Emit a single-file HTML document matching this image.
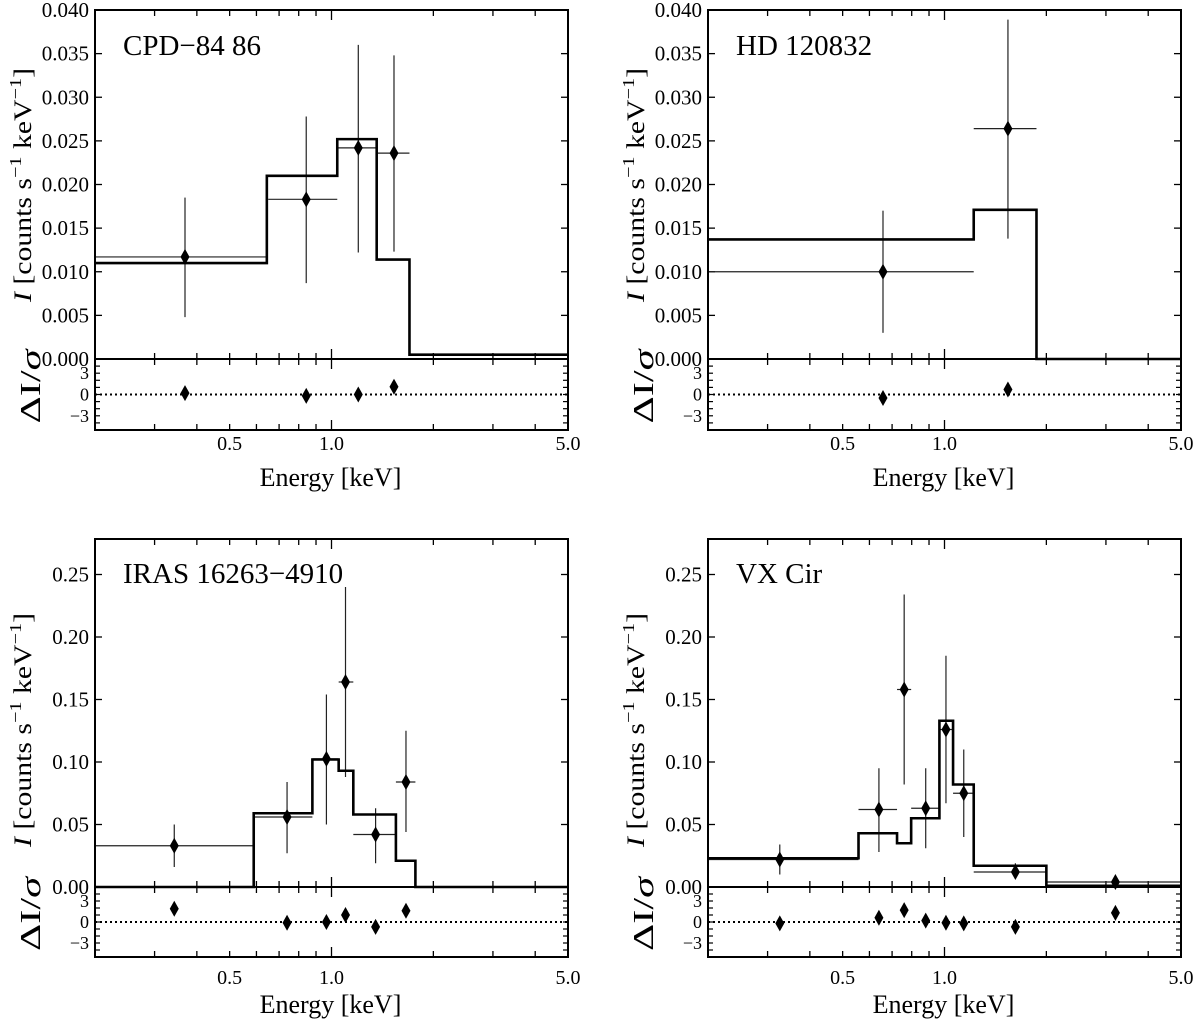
<!DOCTYPE html>
<html><head><meta charset="utf-8"><style>
html,body{margin:0;padding:0;background:#fff;}
svg{display:block;font-family:"Liberation Serif",serif;}
</style></head><body>
<svg id="fig" width="1200" height="1023" viewBox="0 0 1200 1023" xmlns="http://www.w3.org/2000/svg"></svg>
<script>
// ---- Panel data (energies in keV, intensities in counts/s/keV) ----
const tlNames = "CPD\u221284 86";
const tlEdges = [0.2,0.644,1.04,1.36,1.70,5];
const tlModel = [0.011,0.021,0.0252,0.0114,0.0005];
const tlE = [0.369,0.842,1.20,1.53];
const tlY = [0.0117,0.0183,0.0242,0.0236];
const tlYlo = [0.0048,0.0087,0.0122,0.0123];
const tlYhi = [0.0185,0.0278,0.036,0.0348];
const tlXlo = [0.2,0.65,1.04,1.36];
const tlXhi = [0.644,1.04,1.36,1.70];
const tlRes = [0.2,-0.2,0,1.1];

const trNames = "HD 120832";
const trEdges = [0.2,1.22,1.87,5];
const trModel = [0.0137,0.0171,0];
const trE = [0.658,1.54];
const trY = [0.010,0.0264];
const trYlo = [0.003,0.0138];
const trYhi = [0.017,0.0389];
const trXlo = [0.2,1.22];
const trXhi = [1.22,1.87];
const trRes = [-0.5,0.7];

const blNames = "IRAS 16263\u22124910";
const blEdges = [0.2,0.589,0.878,1.05,1.16,1.55,1.77,5];
const blModel = [0,0.059,0.102,0.093,0.058,0.021,0];
const blE = [0.343,0.739,0.966,1.10,1.35,1.66];
const blY = [0.033,0.056,0.1025,0.164,0.042,0.084];
const blYlo = [0.016,0.027,0.050,0.088,0.019,0.044];
const blYhi = [0.050,0.084,0.154,0.240,0.063,0.125];
const blXlo = [0.2,0.589,0.878,1.05,1.16,1.55];
const blXhi = [0.589,0.878,1.05,1.16,1.55,1.77];
const blRes = [1.9,-0.1,0,1,-0.7,1.6];

const brNames = "VX Cir";
const brEdges = [0.2,0.557,0.724,0.797,0.966,1.06,1.22,2.0,5];
const brModel = [0.023,0.043,0.035,0.055,0.133,0.082,0.017,0.001];
const brE = [0.326,0.64,0.76,0.88,1.01,1.14,1.62,3.2];
const brY = [0.022,0.062,0.158,0.063,0.126,0.075,0.012,0.004];
const brYlo = [0.010,0.028,0.082,0.031,0.067,0.040,0.007,0.002];
const brYhi = [0.034,0.095,0.234,0.095,0.185,0.110,0.019,0.006];
const brXlo = [0.2,0.557,0.724,0.797,0.966,1.06,1.22,2.0];
const brXhi = [0.557,0.724,0.797,0.966,1.06,1.22,2.0,5];
const brRes = [-0.2,0.6,1.7,0.2,-0.1,-0.2,-0.7,1.3];

const topYTicks = [0,0.005,0.010,0.015,0.020,0.025,0.030,0.035,0.040];
const botYTicks = [0,0.05,0.10,0.15,0.20,0.25];
const xMinorTicks = [0.3,0.4,0.5,0.6,0.7,0.8,0.9,2,3,4];
const xLabelTicks = [0.5,1.0,5.0];
const resLabelTicks = [3,0,-3];

const NS="http://www.w3.org/2000/svg";
const svg=document.getElementById('fig');
function mk(tag,attrs,parent){const e=document.createElementNS(NS,tag);for(const k in attrs)e.setAttribute(k,attrs[k]);(parent||svg).appendChild(e);return e;}

function panel(p){
  const g=mk('g',{});
  
  
  const X0=p.left,X1=p.right,T=p.top,Z=p.zero,RB=p.rbot;
  const lmin=Math.log10(0.2),lmax=Math.log10(5);
  const sx=e=>X0+(Math.log10(e)-lmin)/(lmax-lmin)*(X1-X0);
  const sy=v=>Z-v/p.ymax*(Z-T);
  const rc=(Z+RB)/2;
  const sr=r=>rc-r*(RB-Z)/10;
  p.yticks.forEach(v=>{
    const y=sy(v);
    if(v>0){mk('line',{x1:X0,y1:y,x2:X0+7,y2:y,stroke:'#000','stroke-width':1.3},g);
    mk('line',{x1:X1,y1:y,x2:X1-7,y2:y,stroke:'#000','stroke-width':1.3},g);}
    const t=mk('text',{x:X0-6,y:y+7,'text-anchor':'end','font-size':21},g);
    t.textContent=v.toFixed(p.dec);
    
    
  });
  for(let r=-4;r<=4;r++){const y=sr(r);
    mk('line',{x1:X0,y1:y,x2:X0+5,y2:y,stroke:'#000','stroke-width':1.2},g);
    mk('line',{x1:X1,y1:y,x2:X1-5,y2:y,stroke:'#000','stroke-width':1.2},g);}
  resLabelTicks.forEach(r=>{const t=mk('text',{x:X0-6,y:sr(r)+6,'text-anchor':'end','font-size':18},g);
    t.textContent=r<0?'\u2212'+(-r):String(r);
    
    });
  const allx=xMinorTicks.concat([1]);
  allx.forEach(e=>{const x=sx(e);const L=e===1?10:6;
    [[T,1],[Z,-1],[Z,1],[RB,-1]].forEach(([y,d])=>mk('line',{x1:x,y1:y,x2:x,y2:y+d*L,stroke:'#000','stroke-width':1.3},g));});
  xLabelTicks.forEach(e=>{const t=mk('text',{x:sx(e),y:RB+p.tickDy,'text-anchor':'middle','font-size':20},g);
    t.textContent=e.toFixed(1);
    
    });
  const zl=mk('line',{x1:X0,y1:sr(0),x2:X1,y2:sr(0),stroke:'#000','stroke-width':2,'stroke-dasharray':'2,3'},g);
  
  
  p.E.forEach((e,i)=>{const y=sy(p.Y[i]);
    const l=mk('line',{x1:sx(p.Xlo[i]),y1:y,x2:sx(p.Xhi[i]),y2:y,stroke:'#222','stroke-width':1.2},g);
    
    
    const v=mk('line',{x1:sx(e),y1:sy(p.Ylo[i]),x2:sx(e),y2:sy(p.Yhi[i]),stroke:'#222','stroke-width':1.2},g);
    
    });
  let d='';
  p.model.forEach((v,i)=>{const y=sy(v);const xa=sx(p.edges[i]),xb=sx(p.edges[i+1]);
    d+=(i===0?'M':'L')+xa+','+y+'L'+xb+','+y;});
  const mp=mk('path',{d:d,fill:'none',stroke:'#000','stroke-width':2.6,'stroke-linejoin':'miter'},g);
  
  
  const dia=(x,y)=>'M'+x+','+(y-8)+'L'+(x+4.5)+','+y+'L'+x+','+(y+8)+'L'+(x-4.5)+','+y+'Z';
  p.E.forEach((e,i)=>{const m=mk('path',{d:dia(sx(e),sy(p.Y[i])),fill:'#000'},g);
    
    
    const r=mk('path',{d:dia(sx(e),sr(p.res[i])),fill:'#000'},g);
    
    });
  const f1=mk('rect',{x:X0,y:T,width:X1-X0,height:Z-T,fill:'none',stroke:'#000','stroke-width':2},g);
  
  
  const f2=mk('rect',{x:X0,y:Z,width:X1-X0,height:RB-Z,fill:'none',stroke:'#000','stroke-width':2},g);
  
  
  const tt=mk('text',{x:X0+28,y:T+p.titleDy,'font-size':29},g);
  tt.textContent=p.name;
  
  
  const yl=mk('text',{transform:'translate('+(X0-64)+','+p.ylc+') rotate(-90)','text-anchor':'middle','font-size':25,textLength:234,lengthAdjust:'spacingAndGlyphs'},g);
  yl.innerHTML='<tspan font-style="italic">I</tspan> [counts s<tspan dy="-10" font-size="17">\u22121</tspan><tspan dy="10"> keV</tspan><tspan dy="-10" font-size="17">\u22121</tspan><tspan dy="10">]</tspan>';
  
  
  const rl=mk('text',{transform:'translate('+(X0-55)+','+(rc-8)+') rotate(-90)','text-anchor':'middle','font-size':28,textLength:74,lengthAdjust:'spacingAndGlyphs'},g);
  rl.innerHTML='\u0394I/<tspan font-style="italic">\u03c3</tspan>';
  
  
  const xl=mk('text',{x:(X0+X1)/2-1,y:RB+p.xlDy,'text-anchor':'middle','font-size':26},g);
  xl.textContent='Energy [keV]';
  
  
}
panel({key:'cpd-84-86',name:tlNames,left:95,right:568,top:10,zero:359,rbot:430,ymax:0.04,yticks:topYTicks,dec:3,
  edges:tlEdges,model:tlModel,E:tlE,Y:tlY,Ylo:tlYlo,Yhi:tlYhi,Xlo:tlXlo,Xhi:tlXhi,res:tlRes,titleDy:45,ylc:185,tickDy:20,xlDy:56});
panel({key:'hd-120832',name:trNames,left:708,right:1181,top:10,zero:359,rbot:430,ymax:0.04,yticks:topYTicks,dec:3,
  edges:trEdges,model:trModel,E:trE,Y:trY,Ylo:trYlo,Yhi:trYhi,Xlo:trXlo,Xhi:trXhi,res:trRes,titleDy:45,ylc:185,tickDy:20,xlDy:56});
panel({key:'iras-16263',name:blNames,left:95,right:568,top:539,zero:887,rbot:957,ymax:0.2784,yticks:botYTicks,dec:2,
  edges:blEdges,model:blModel,E:blE,Y:blY,Ylo:blYlo,Yhi:blYhi,Xlo:blXlo,Xhi:blXhi,res:blRes,titleDy:44,ylc:730,tickDy:27,xlDy:56});
panel({key:'vx-cir',name:brNames,left:708,right:1181,top:539,zero:887,rbot:957,ymax:0.2784,yticks:botYTicks,dec:2,
  edges:brEdges,model:brModel,E:brE,Y:brY,Ylo:brYlo,Yhi:brYhi,Xlo:brXlo,Xhi:brXhi,res:brRes,titleDy:44,ylc:730,tickDy:27,xlDy:56});
</script>
</body></html>
